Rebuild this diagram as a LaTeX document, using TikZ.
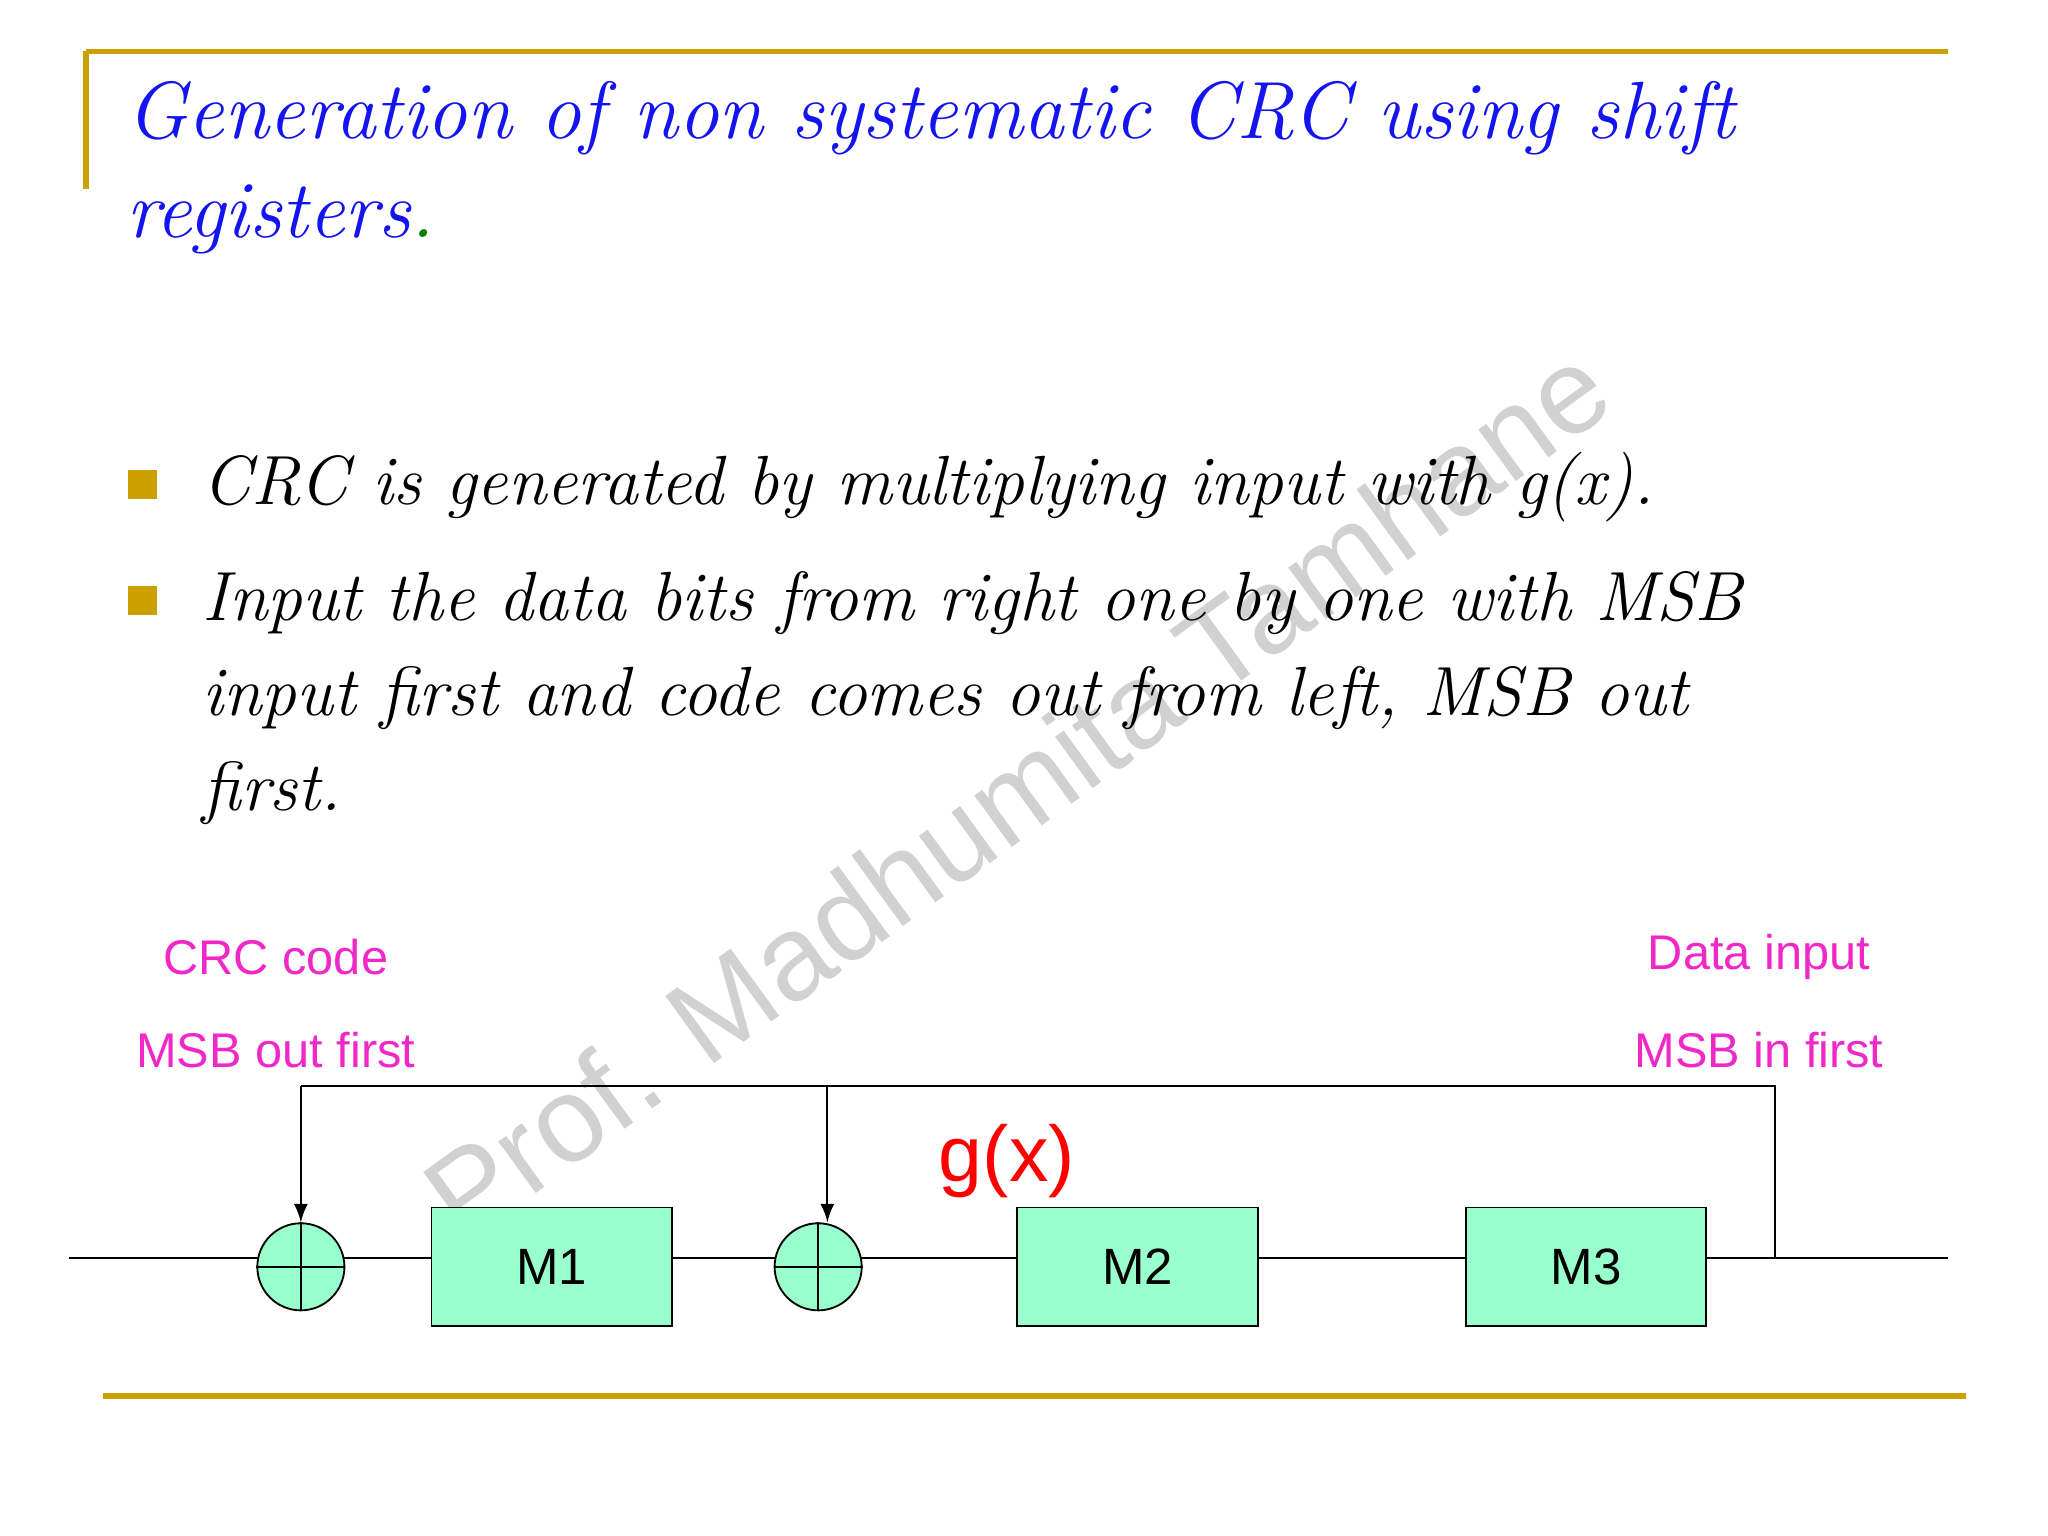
\documentclass[tikz,border=0pt]{standalone}
\usepackage{fontspec}
\newfontfamily\arialf{Liberation Sans}
\begin{document}
\begin{tikzpicture}[x=0.01cm,y=-0.01cm,
  gold/.style={draw={rgb,255:red,204;green,160;blue,0},line width=1.2pt},
  mag/.style={text={rgb,255:red,240;green,40;blue,200},font=\arialf\fontsize{10.5}{12}\selectfont},
  reg/.style={draw,fill={rgb,255:red,153;green,255;blue,204},minimum width=182*0.01cm,minimum height=90*0.01cm,font=\arialf\fontsize{11}{13}\selectfont,inner sep=0pt},
  xorc/.style={draw,circle,fill={rgb,255:red,153;green,255;blue,204},minimum size=66*0.01cm,inner sep=0pt},
  bul/.style={fill={rgb,255:red,204;green,160;blue,0},minimum size=22*0.01cm,inner sep=0pt},
  btxt/.style={anchor=base west,inner sep=0pt,font=\itshape\fontsize{15}{18}\selectfont}]
\useasboundingbox (0,0) rectangle (1552,1164);
\draw[gold] (65,39) -- (1476,39);
\draw[gold] (65,39) -- (65,143);
\draw[gold] (78,1058) -- (1490,1058);
\node[anchor=base west,inner sep=0pt,text={rgb,255:red,20;green,20;blue,240},font=\itshape\fontsize{17.5}{21}\selectfont] (t1) at (95,105) {Generation of non systematic CRC using shift};
\node[anchor=base west,inner sep=0pt,text={rgb,255:red,20;green,20;blue,240},font=\itshape\fontsize{17.5}{21}\selectfont] (t2) at (95,180) {registers\textcolor{green!50!black}{.}};
\node[rotate=36,text=black!18,font=\arialf\fontsize{26}{30}\selectfont] (wm) at (770,600) {Prof. Madhumita Tamhane};
\node[bul] (b1) at (108,367) {};
\node[bul] (b2) at (108,455) {};
\node[btxt] (l1) at (153,382) {CRC is generated by multiplying input with g(x).};
\node[btxt] (l2) at (153,470) {Input the data bits from right one by one with MSB};
\node[btxt] (l3) at (153,542) {input first and code comes out from left, MSB out};
\node[btxt] (l4) at (153,614) {first.};
\node[mag] (c1) at (209,725) {CRC code};
\node[mag] (c2) at (209,796) {MSB out first};
\node[mag] (d1) at (1333,725) {Data input};
\node[mag] (d2) at (1333,796) {MSB in first};
\node[text=red,font=\arialf\fontsize{17}{20}\selectfont] (g) at (763,880) {g(x)};
\coordinate (L) at (52,953);
\coordinate (R) at (1476,953);
\coordinate (T) at (1345,953);
\coordinate (TT) at (1345,823);
\coordinate (TA) at (228,823);
\coordinate (TB) at (627,823);
\draw (L) -- (R);
\node[xorc] (x1) at (228,960) {};
\node[xorc] (x2) at (620,960) {};
\draw (x1.north) -- (x1.south) (x1.west) -- (x1.east);
\draw (x2.north) -- (x2.south) (x2.west) -- (x2.east);
\node[reg] (m1) at (418,960) {M1};
\node[reg] (m2) at (862,960) {M2};
\node[reg] (m3) at (1202,960) {M3};
\draw (T) -- (TT) -- (TA);
\draw[-latex] (TA) -- (x1.north);
\draw[-latex] (TB) -- (TB |- x2.north);
\end{tikzpicture}
\end{document}
